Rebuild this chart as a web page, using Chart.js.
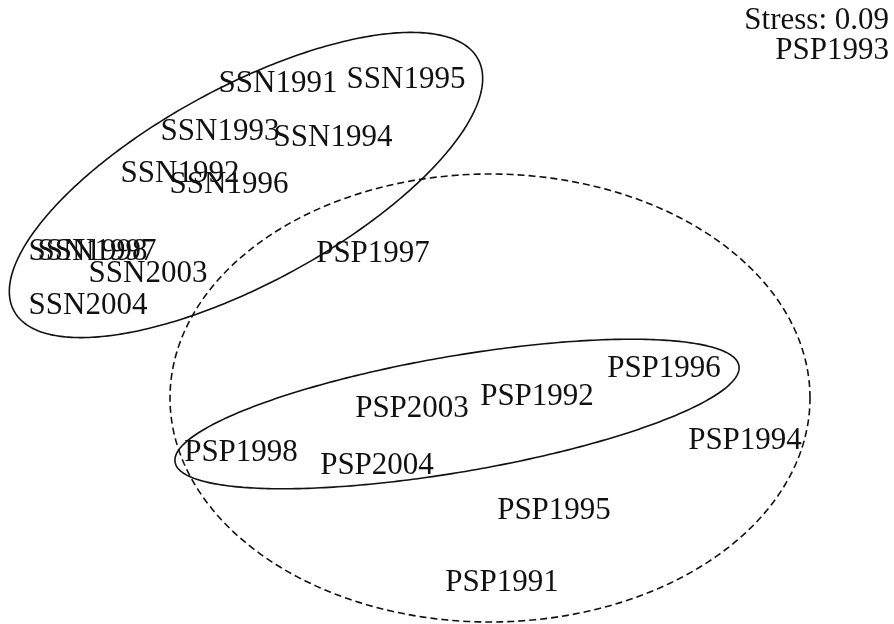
<!DOCTYPE html>
<html>
<head>
<meta charset="utf-8">
<script src="https://cdn.jsdelivr.net/npm/chart.js@4/dist/chart.umd.min.js"></script>
<style>
  html, body { margin: 0; padding: 0; background: #ffffff; }
  #wrap { width: 894px; height: 624px; }
</style>
</head>
<body>
<div id="wrap"><canvas id="nmds"></canvas></div>
<script>
// NMDS ordination of site-years (SSN and PSP) with group ellipses
const ssnLabels = ["SSN1991", "SSN1995", "SSN1993", "SSN1994", "SSN1992", "SSN1996", "SSN1998", "SSN1997", "SSN2003", "SSN2004"];
const ssnX = [-0.845, -0.205, -1.135, -0.57, -1.335, -1.09, -1.795, -1.75, -1.495, -1.795];
const ssnY = [1.145, 1.165, 0.905, 0.875, 0.695, 0.64, 0.305, 0.305, 0.195, 0.035];

const pspLabels = ["PSP1997", "PSP1996", "PSP1992", "PSP2003", "PSP1994", "PSP1998", "PSP2004", "PSP1995", "PSP1991"];
const pspX = [-0.37, 1.085, 0.45, -0.175, 1.49, -1.03, -0.35, 0.535, 0.275];
const pspY = [0.295, -0.28, -0.42, -0.48, -0.64, -0.70, -0.765, -0.99, -1.35];

const stressText = "Stress: 0.09";
const outlierText = "PSP1993";

// Group ellipses: centre (x, y), semi-axes (a, b), rotation in degrees
const ellipseSSN = { cx: -1.005, cy: 0.635, a: 1.32, b: 0.49, deg: 28.5, dash: [] };
const ellipsePSPAll = { cx: 0.215, cy: -0.43, a: 1.6, b: 1.12, deg: 0, dash: [7, 4] };
const ellipsePSPCore = { cx: 0.05, cy: -0.51, a: 1.43, b: 0.29, deg: 9.7, dash: [] };
const ellipses = [ellipseSSN, ellipsePSPAll, ellipsePSPCore];

const toPoints = (xs, ys, labels) => xs.map((x, i) => ({ x: x, y: ys[i], label: labels[i] }));

const labelFont = '31px "Liberation Serif", "Times New Roman", serif';

const ordinationPlugin = {
  id: 'ordination',
  beforeDraw(chart) {
    const ctx = chart.ctx;
    ctx.save();
    ctx.fillStyle = '#ffffff';
    ctx.fillRect(0, 0, chart.width, chart.height);
    ctx.restore();
  },
  afterDatasetsDraw(chart) {
    const ctx = chart.ctx;
    const xs = chart.scales.x, ys = chart.scales.y;
    ctx.save();
    // ellipses traced in data space, mapped through the scales
    ellipses.forEach(e => {
      const r = e.deg * Math.PI / 180;
      ctx.beginPath();
      const n = 360;
      for (let k = 0; k <= n; k++) {
        const t = 2 * Math.PI * k / n;
        const dx = e.a * Math.cos(t), dy = e.b * Math.sin(t);
        const px = xs.getPixelForValue(e.cx + dx * Math.cos(r) - dy * Math.sin(r));
        const py = ys.getPixelForValue(e.cy + dx * Math.sin(r) + dy * Math.cos(r));
        if (k === 0) ctx.moveTo(px, py); else ctx.lineTo(px, py);
      }
      ctx.closePath();
      ctx.setLineDash(e.dash);
      ctx.lineWidth = 1.6;
      ctx.strokeStyle = '#111111';
      ctx.stroke();
    });
    ctx.setLineDash([]);
    // sample labels centred on their ordination scores
    ctx.font = labelFont;
    ctx.fillStyle = '#111111';
    ctx.textAlign = 'center';
    ctx.textBaseline = 'middle';
    chart.data.datasets.forEach((ds, di) => {
      const meta = chart.getDatasetMeta(di);
      meta.data.forEach((pt, i) => {
        ctx.fillText(ds.data[i].label, pt.x, pt.y + 1);
      });
    });
    // stress note in the top-right corner
    ctx.textAlign = 'right';
    ctx.textBaseline = 'middle';
    ctx.fillText(stressText, chart.width - 5, 21);
    ctx.fillText(outlierText, chart.width - 5, 51);
    ctx.restore();
  }
};

new Chart(document.getElementById('nmds'), {
  type: 'scatter',
  data: {
    datasets: [
      { label: 'SSN', data: toPoints(ssnX, ssnY, ssnLabels), pointRadius: 0, pointHoverRadius: 0 },
      { label: 'PSP', data: toPoints(pspX, pspY, pspLabels), pointRadius: 0, pointHoverRadius: 0 }
    ]
  },
  options: {
    responsive: true,
    maintainAspectRatio: false,
    animation: false,
    layout: { padding: 0 },
    plugins: { legend: { display: false }, tooltip: { enabled: false } },
    scales: {
      x: { type: 'linear', min: -2.235, max: 2.235, display: false },
      y: { type: 'linear', min: -1.56, max: 1.56, display: false }
    }
  },
  plugins: [ordinationPlugin]
});
</script>
</body>
</html>
